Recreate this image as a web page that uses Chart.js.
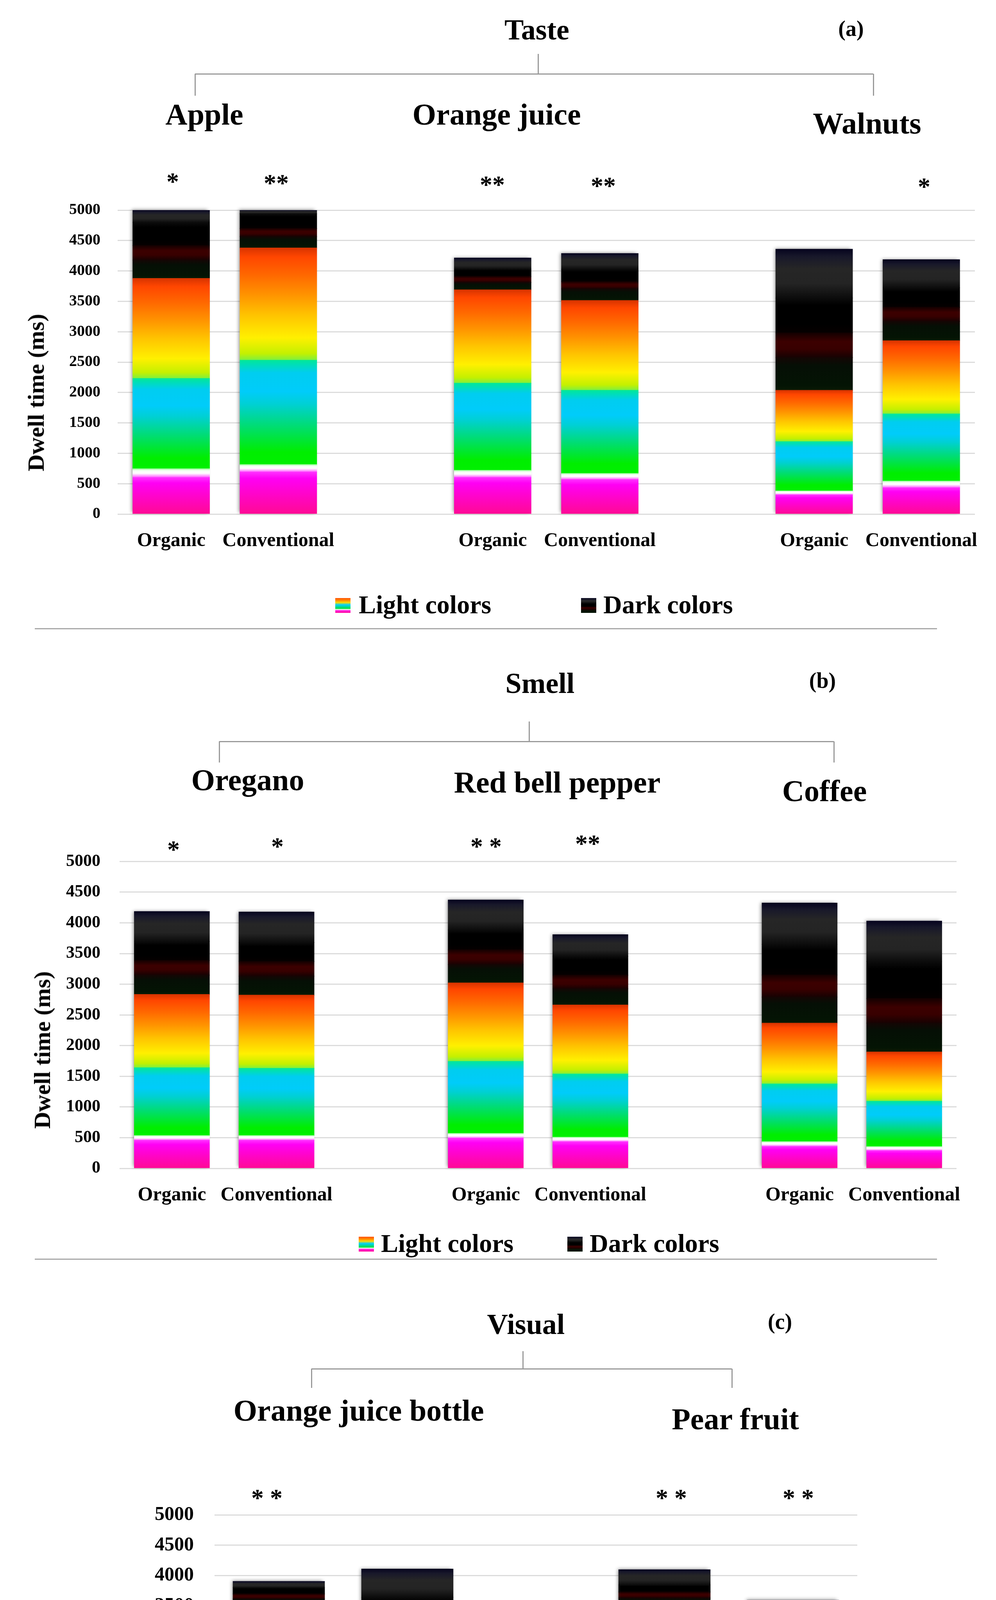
<!DOCTYPE html>
<html>
<head>
<meta charset="utf-8">
<title>Dwell time by colour group</title>
<script src="https://cdn.jsdelivr.net/npm/chart.js@4.4.1/dist/chart.umd.min.js"></script>
<style>
    html, body { margin: 0; padding: 0; background: #fff; }
    #page {
        position: relative; width: 2549px; height: 4908px; overflow: hidden;
        font-family: 'Liberation Serif', 'Times New Roman', serif; font-weight: bold; color: #000;
    }
    canvas { position: absolute; left: 0; }
    .t { position: absolute; white-space: nowrap; line-height: 1; }
    .ln { position: absolute; background: #9a9a9a; }
    .sw { position: absolute; }
</style>
</head>
<body>
<div id="page">
    <canvas id="chartTaste"></canvas>
    <canvas id="chartSmell"></canvas>
    <canvas id="chartVisual"></canvas>
</div>
<script>
// ---- Data (ms per colour segment, stacked bottom to top) ----

// (a) Taste
const tasteLabels = ['Organic', 'Conventional', '', 'Organic', 'Conventional', '', 'Organic', 'Conventional'];
const tastePink      = [600, 690, null, 600, 567, null, 314, 432];
const tasteWhite     = [145, 125, null, 119, 101, null, 67, 111];
const tasteCool      = [1484, 1715, null, 1434, 1367, null, 810, 1104];
const tasteWarm      = [1647, 1848, null, 1536, 1478, null, 844, 1205];
const tasteDarkGreen = [301, 188, null, 121, 192, null, 540, 318];
const tasteDarkRed   = [241, 133, null, 100, 119, null, 405, 232];
const tasteBlack     = [381, 241, null, 120, 202, null, 574, 321];
const tasteGray      = [201, 60, null, 182, 260, null, 803, 462];

// (b) Smell
const smellLabels = ['Organic', 'Conventional', '', 'Organic', 'Conventional', '', 'Organic', 'Conventional'];
const smellPink      = [456, 456, null, 490, 432, null, 355, 288];
const smellWhite     = [79, 79, null, 79, 76, null, 81, 67];
const smellCool      = [1104, 1094, null, 1173, 1028, null, 938, 737];
const smellWarm      = [1194, 1193, null, 1279, 1125, null, 992, 805];
const smellDarkGreen = [315, 309, null, 299, 264, null, 424, 469];
const smellDarkRed   = [240, 240, null, 240, 223, null, 360, 402];
const smellBlack     = [309, 309, null, 325, 309, null, 500, 603];
const smellGray      = [487, 497, null, 487, 350, null, 673, 657];

// (c) Visual
const visualLabels = ['Organic', 'Conventional', '', 'Organic', 'Convemtional'];
const visualPink      = [550, 431, null, 550, 448];
const visualWhite     = [129, 102, null, 119, 85];
const visualCool      = [1366, 1053, null, 1342, 1030];
const visualWarm      = [1494, 1155, null, 1477, 1154];
const visualDarkGreen = [75, 323, null, 140, 194];
const visualDarkRed   = [84, 221, null, 102, 153];
const visualBlack     = [102, 356, null, 115, 204];
const visualGray      = [103, 466, null, 251, 326];

const yTicks = [0, 500, 1000, 1500, 2000, 2500, 3000, 3500, 4000, 4500, 5000];

// ---- Segment fills (gradient stops, bottom -> top) ----
const SEGMENTS = [
    { name: 'Pink', flat: '#ff06c8', stops: [[0, '#ff0a94'], [0.5, '#ff04cc'], [0.85, '#ff00f4'], [1, '#ff30ff']] },
    { name: 'White', flat: '#ffffff', stops: [[0, '#ff50ff'], [0.3, '#ffc0ff'], [0.5, '#ffffff'], [0.8, '#f4fff4'], [1, '#a0ffa0']] },
    { name: 'Green-blue', flat: '#00d8b0', stops: [[0, '#00f000'], [0.12, '#00ee00'], [0.38, '#00dc78'], [0.58, '#00d0d4'], [0.7, '#00ccfa'], [0.88, '#00cdf0'], [1, '#00e79a']] },
    { name: 'Yellow-red', flat: '#ffa000', stops: [[0, '#7cf040'], [0.06, '#c4f000'], [0.2, '#fff000'], [0.4, '#ffc400'], [0.58, '#ff9400'], [0.76, '#ff6800'], [0.92, '#ff4600'], [1, '#d83400']] },
    { name: 'Dark green', flat: '#041204', stops: [[0, '#0a1a04'], [0.15, '#041404'], [0.75, '#050f05'], [1, '#140604']] },
    { name: 'Dark red', flat: '#340000', stops: [[0, '#160202'], [0.35, '#380000'], [0.65, '#3c0000'], [1, '#140000']] },
    { name: 'Black', flat: '#000000', stops: [[0, '#060000'], [0.25, '#000000'], [0.8, '#000000'], [1, '#0c0c0c']] },
    { name: 'Gray', flat: '#222222', stops: [[0, '#0c0c0c'], [0.3, '#242424'], [0.6, '#262626'], [0.85, '#18182a'], [1, '#06041e']] }
];

const FONT = "'Liberation Serif', 'Times New Roman', serif";
Chart.defaults.font.family = FONT;

// Gradient for one bar segment, spanning exactly that segment
function segmentFill(ctx, k) {
    const seg = SEGMENTS[k];
    if (ctx.type !== 'data') return seg.flat;
    const chart = ctx.chart;
    const yScale = chart.scales.y;
    if (!chart.chartArea || !yScale) return seg.flat;
    const sets = chart.data.datasets;
    let start = 0;
    for (let j = 0; j < k; j++) start += sets[j].data[ctx.dataIndex] || 0;
    const end = start + (ctx.raw || 0);
    const y0 = yScale.getPixelForValue(start);
    const y1 = yScale.getPixelForValue(end);
    if (!isFinite(y0) || !isFinite(y1) || y0 === y1) return seg.flat;
    const g = chart.ctx.createLinearGradient(0, y0, 0, y1);
    seg.stops.forEach(([p, c]) => g.addColorStop(p, c));
    return g;
}

// Soft shadow behind each whole bar (left and top edge)
const barShadow = {
    id: 'barShadow',
    beforeDatasetsDraw(chart) {
        const n = chart.data.labels.length;
        const last = chart.data.datasets.length - 1;
        const c = chart.ctx;
        c.save();
        c.shadowColor = 'rgba(0,0,0,0.45)';
        c.shadowBlur = 9;
        c.shadowOffsetX = -4;
        c.shadowOffsetY = -2;
        c.fillStyle = '#777777';
        for (let i = 0; i < n; i++) {
            const bottom = chart.getDatasetMeta(0).data[i];
            const top = chart.getDatasetMeta(last).data[i];
            if (!bottom || !top || chart.data.datasets[0].data[i] == null) continue;
            const w = bottom.width;
            c.fillRect(bottom.x - w / 2 + 1, top.y + 1, w - 2, bottom.base - top.y - 2);
        }
        c.restore();
    }
};

function makeChart(id, g, labels, series) {
    const canvas = document.getElementById(id);
    canvas.width = 2549;
    canvas.height = g.height;
    canvas.style.top = g.top + 'px';
    canvas.style.width = '2549px';
    canvas.style.height = g.height + 'px';

    const datasets = series.map((values, k) => ({
        label: SEGMENTS[k].name,
        data: values,
        backgroundColor: ctx => segmentFill(ctx, k),
        borderWidth: 0,
        inflateAmount: 0.8,
        barPercentage: g.bar,
        categoryPercentage: 1
    }));

    return new Chart(canvas, {
        type: 'bar',
        data: { labels: labels, datasets: datasets },
        options: {
            responsive: false,
            animation: false,
            devicePixelRatio: 1,
            layout: { padding: { top: g.plotTop - g.top, right: 2549 - g.right, left: 0, bottom: 0 } },
            plugins: {
                legend: { display: false },
                tooltip: { enabled: false },
                title: { display: false }
            },
            scales: {
                x: {
                    stacked: true,
                    grid: { display: false },
                    border: { display: false },
                    ticks: {
                        color: '#000',
                        font: { size: g.labelSize, weight: 'bold' },
                        padding: g.labelPad,
                        maxRotation: 0,
                        autoSkip: false
                    },
                    afterFit: s => { s.height = g.top + g.height - g.plotBottom; }
                },
                y: {
                    stacked: true,
                    min: yTicks[0],
                    max: yTicks[yTicks.length - 1],
                    afterBuildTicks: s => { s.ticks = yTicks.map(v => ({ value: v })); },
                    ticks: {
                        color: '#000',
                        font: { size: g.tickSize, weight: 'bold' },
                        padding: g.tickPad,
                        callback: v => String(v)
                    },
                    grid: { color: '#dcdcdc', lineWidth: 3, drawTicks: false },
                    border: { display: false },
                    afterFit: s => { s.width = g.left; }
                }
            }
        },
        plugins: [barShadow]
    });
}

// ---- Page decorations (titles, brackets, asterisks, legends) ----
const page = document.getElementById('page');

// cy = middle of the capital letters
function addText(str, cx, cy, size, alignLeft) {
    const d = document.createElement('div');
    d.className = 't';
    d.textContent = str;
    d.style.fontSize = size + 'px';
    d.style.top = (cy - 0.5075 * size) + 'px';
    d.style.left = cx + 'px';
    if (!alignLeft) d.style.transform = 'translateX(-50%)';
    page.appendChild(d);
}

function addStars(str, cx, cy, size) {
    const d = document.createElement('div');
    d.className = 't';
    d.textContent = str;
    d.style.fontSize = size + 'px';
    d.style.top = (cy - 0.3575 * size) + 'px';
    d.style.left = cx + 'px';
    d.style.transform = 'translateX(-50%)';
    page.appendChild(d);
}

function addYTitle(str, cx, cy, size) {
    const d = document.createElement('div');
    d.className = 't';
    d.textContent = str;
    d.style.fontSize = size + 'px';
    d.style.left = cx + 'px';
    d.style.top = cy + 'px';
    d.style.transform = 'translate(-50%, -50%) rotate(-90deg)';
    page.appendChild(d);
}

function addLine(x1, y1, x2, y2, color) {
    const d = document.createElement('div');
    d.className = 'ln';
    const w = 3;
    d.style.left = (Math.min(x1, x2) - (x1 === x2 ? w / 2 : 0)) + 'px';
    d.style.top = (Math.min(y1, y2) - (y1 === y2 ? w / 2 : 0)) + 'px';
    d.style.width = (x1 === x2 ? w : Math.abs(x2 - x1)) + 'px';
    d.style.height = (y1 === y2 ? w : Math.abs(y2 - y1)) + 'px';
    if (color) d.style.background = color;
    page.appendChild(d);
}

function addBracket(cx, yTop, yMid, xl, xr, yEnd) {
    addLine(cx, yTop, cx, yMid);
    addLine(xl, yMid, xr, yMid);
    addLine(xl, yMid, xl, yEnd);
    addLine(xr, yMid, xr, yEnd);
}

const LIGHT_SWATCH = 'linear-gradient(to bottom, #ff5000 0%, #ff8a00 16%, #ffd800 30%, #00d0ff 46%, #00d8a0 58%, #00e040 70%, #ffffff 78%, #ff20e0 84%, #ff0a9a 100%)';
const DARK_SWATCH = 'linear-gradient(to bottom, #0a0a24 0%, #2a2a2a 20%, #000000 40%, #000000 55%, #3c0000 66%, #200000 76%, #041404 86%, #041404 100%)';

function addLegend(cy, lightX, lightTextX, darkX, darkTextX) {
    [[lightX, LIGHT_SWATCH], [darkX, DARK_SWATCH]].forEach(([x, bg]) => {
        const s = document.createElement('div');
        s.className = 'sw';
        s.style.left = x + 'px';
        s.style.top = (cy - 17) + 'px';
        s.style.width = '39px';
        s.style.height = '38px';
        s.style.background = bg;
        page.appendChild(s);
    });
    addText('Light colors', lightTextX, cy, 66, true);
    addText('Dark colors', darkTextX, cy, 66, true);
}

// (a) Taste
addText('Taste', 1374, 77, 74);
addText('(a)', 2178, 73, 56);
addBracket(1377, 138, 189, 499, 2235, 245);
addText('Apple', 523, 294, 78);
addText('Orange juice', 1271, 294, 78);
addText('Walnuts', 2219, 317, 78);
addStars('*', 442, 456, 64);
addStars('**', 707, 460, 64);
addStars('**', 1260, 464, 64);
addStars('**', 1544, 467, 64);
addStars('*', 2365, 469, 64);
addYTitle('Dwell time (ms)', 92, 1005, 60);
addLegend(1548, 858, 918, 1487, 1544);
addLine(89, 1609, 2398, 1609, '#a8a8a8');

// (b) Smell
addText('Smell', 1382, 1750, 74);
addText('(b)', 2105, 1742, 56);
addBracket(1354, 1847, 1898, 561, 2134, 1952);
addText('Oregano', 634, 1998, 78);
addText('Red bell pepper', 1426, 2004, 78);
addText('Coffee', 2110, 2026, 78);
addStars('*', 444, 2166, 64);
addStars('*', 710, 2158, 64);
addStars('* *', 1244, 2158, 64);
addStars('**', 1504, 2151, 64);
addYTitle('Dwell time (ms)', 108, 2688, 60);
addLegend(3183, 918, 975, 1452, 1509);
addLine(89, 3223, 2398, 3223, '#a8a8a8');

// (c) Visual
addText('Visual', 1346, 3391, 74);
addText('(c)', 1996, 3383, 56);
addBracket(1338, 3459, 3504, 797, 1873, 3553);
addText('Orange juice bottle', 918, 3612, 78);
addText('Pear fruit', 1882, 3634, 78);
addStars('* *', 683, 3826, 64);
addStars('* *', 1718, 3826, 64);
addStars('* *', 2043, 3826, 64);
addYTitle('Dwell time (ms)', 295, 4307, 53);
addLegend(4839, 883, 943, 1483, 1541);

// ---- Charts ----
makeChart('chartTaste',
    { top: 470, height: 960, left: 301, right: 2495, plotTop: 522, plotBottom: 1316,
      tickSize: 40, tickPad: 44, labelSize: 50, labelPad: 31, bar: 0.715 },
    tasteLabels,
    [tastePink, tasteWhite, tasteCool, tasteWarm, tasteDarkGreen, tasteDarkRed, tasteBlack, tasteGray]);

makeChart('chartSmell',
    { top: 2130, height: 990, left: 306, right: 2448, plotTop: 2183, plotBottom: 2991,
      tickSize: 44, tickPad: 49, labelSize: 50, labelPad: 31, bar: 0.717 },
    smellLabels,
    [smellPink, smellWhite, smellCool, smellWarm, smellDarkGreen, smellDarkRed, smellBlack, smellGray]);

makeChart('chartVisual',
    { top: 3795, height: 1000, left: 549, right: 2194, plotTop: 3847, plotBottom: 4655,
      tickSize: 50, tickPad: 53, labelSize: 50, labelPad: 32, bar: 0.711 },
    visualLabels,
    [visualPink, visualWhite, visualCool, visualWarm, visualDarkGreen, visualDarkRed, visualBlack, visualGray]);
</script>
</body>
</html>
